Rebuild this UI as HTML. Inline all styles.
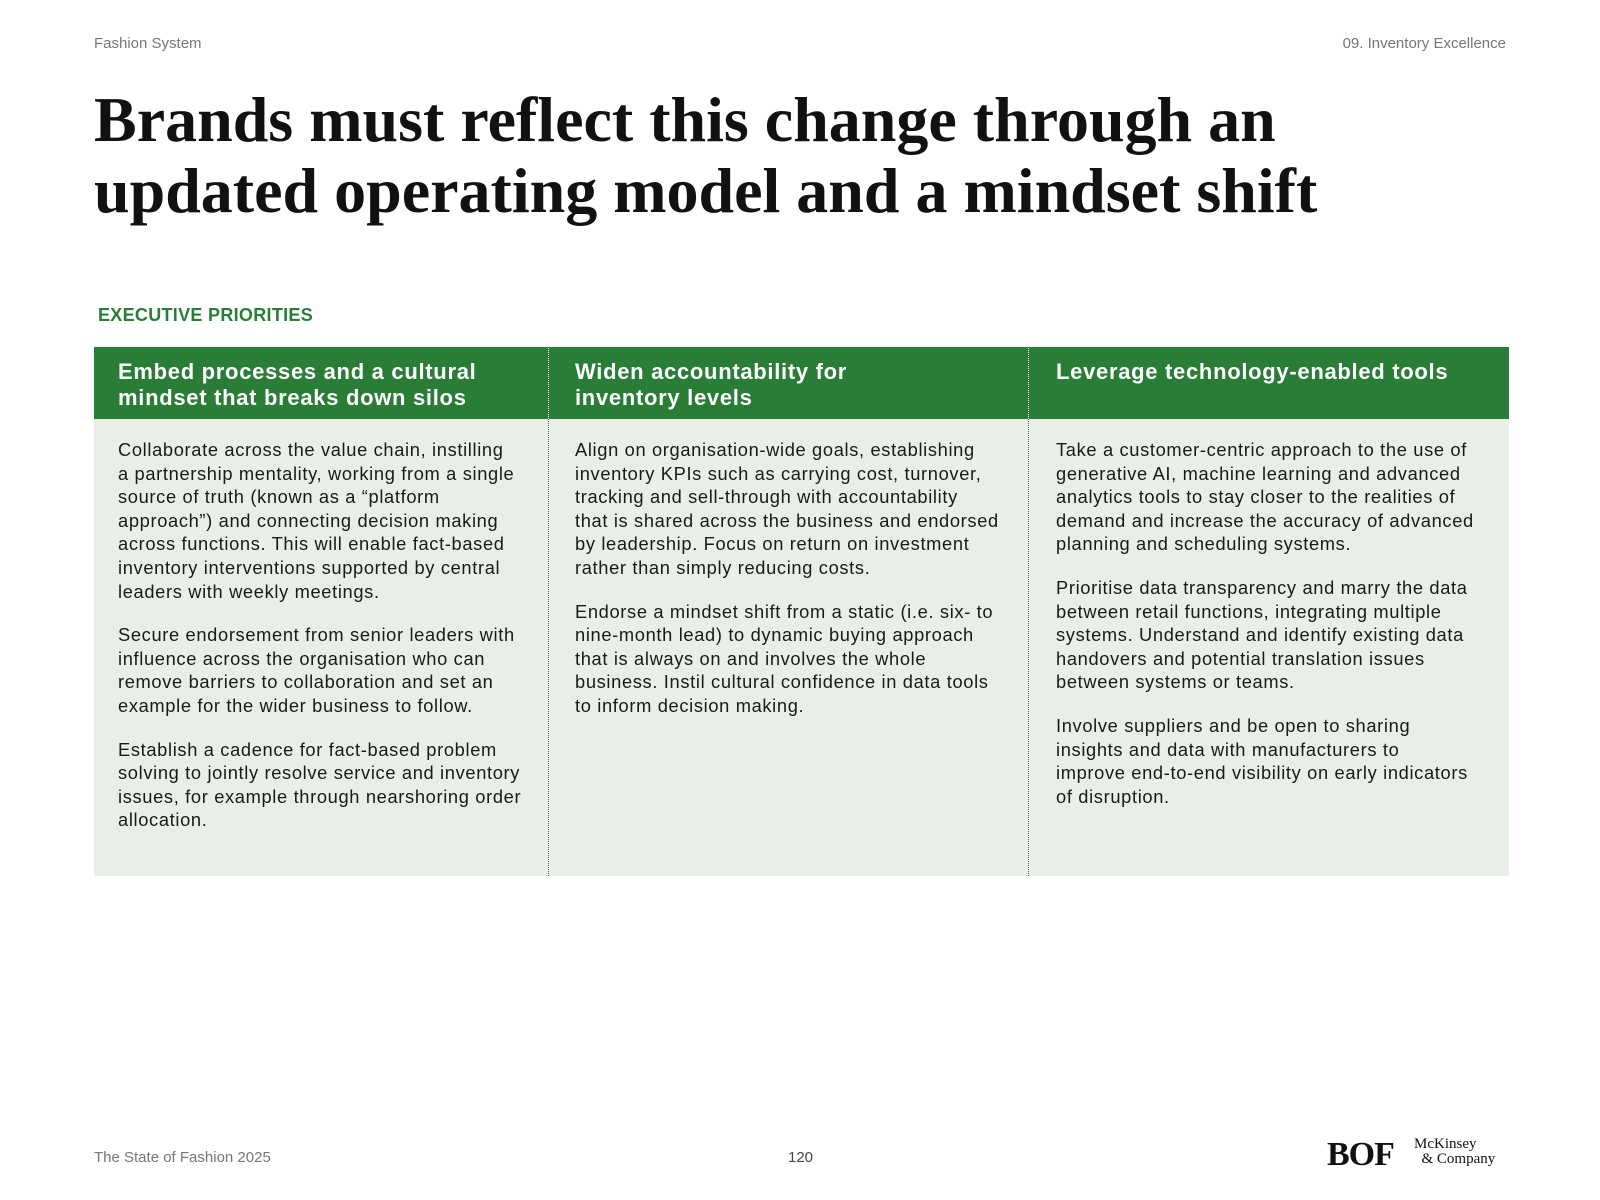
<!DOCTYPE html>
<html><head><meta charset="utf-8"><style>
*{margin:0;padding:0;box-sizing:border-box}
body{width:1600px;height:1200px;background:#fff;position:relative;font-family:"Liberation Sans",sans-serif;color:#1a1a1a;overflow:hidden}
.abs{position:absolute}
.small{font-size:15px;color:#777}
h1{position:absolute;left:94px;top:84px;font-family:"Liberation Serif",serif;font-weight:bold;font-size:64px;line-height:71px;letter-spacing:0px;color:#111;white-space:nowrap}
.col{position:absolute;top:347px;height:529px;background:#e8efe6}
.hd{height:72px;background:#2a7d37;color:#fff;font-weight:bold;font-size:22px;line-height:26px;padding:12px 0 0 24px;letter-spacing:0.7px;white-space:nowrap}
.bd{padding:19px 0 0 24px;font-size:18.3px;line-height:23.6px;color:#1a1a1a;letter-spacing:0.65px;white-space:nowrap}
.bd p{margin-bottom:20px}
</style></head><body>
<div class="abs small" style="left:94px;top:35px">Fashion System</div>
<div class="abs small" style="right:94px;top:35px">09. Inventory Excellence</div>
<h1>Brands must reflect this change through an<br>updated operating model and a mindset shift</h1>
<div class="abs" style="left:98px;top:305px;font-size:18px;font-weight:bold;color:#2a7d37;letter-spacing:0.3px">EXECUTIVE PRIORITIES</div>

<div class="col" style="left:94px;width:454px">
<div class="hd">Embed processes and a cultural<br>mindset that breaks down silos</div>
<div class="bd">
<p>Collaborate across the value chain, instilling<br>a partnership mentality, working from a single<br>source of truth (known as a “platform<br>approach”) and connecting decision making<br>across functions. This will enable fact-based<br>inventory interventions supported by central<br>leaders with weekly meetings.</p>
<p>Secure endorsement from senior leaders with<br>influence across the organisation who can<br>remove barriers to collaboration and set an<br>example for the wider business to follow.</p>
<p>Establish a cadence for fact-based problem<br>solving to jointly resolve service and inventory<br>issues, for example through nearshoring order<br>allocation.</p>
</div></div>
<div class="col" style="left:548px;width:480px;border-left:1px dotted #666">
<div class="hd" style="padding-left:26px">Widen accountability for<br>inventory levels</div>
<div class="bd" style="padding-left:26px">
<p>Align on organisation-wide goals, establishing<br>inventory KPIs such as carrying cost, turnover,<br>tracking and sell-through with accountability<br>that is shared across the business and endorsed<br>by leadership. Focus on return on investment<br>rather than simply reducing costs.</p>
<p>Endorse a mindset shift from a static (i.e. six- to<br>nine-month lead) to dynamic buying approach<br>that is always on and involves the whole<br>business. Instil cultural confidence in data tools<br>to inform decision making.</p>
</div></div>
<div class="col" style="left:1028px;width:481px;border-left:1px dotted #666">
<div class="hd" style="padding-left:27px">Leverage technology-enabled tools</div>
<div class="bd" style="padding-left:27px">
<p>Take a customer-centric approach to the use of<br>generative AI, machine learning and advanced<br>analytics tools to stay closer to the realities of<br>demand and increase the accuracy of advanced<br>planning and scheduling systems.</p>
<p>Prioritise data transparency and marry the data<br>between retail functions, integrating multiple<br>systems. Understand and identify existing data<br>handovers and potential translation issues<br>between systems or teams.</p>
<p>Involve suppliers and be open to sharing<br>insights and data with manufacturers to<br>improve end-to-end visibility on early indicators<br>of disruption.</p>
</div></div>

<div class="abs small" style="left:94px;top:1149px">The State of Fashion 2025</div>
<div class="abs small" style="left:788px;top:1149px;color:#444">120</div>
<div class="abs" style="left:1327px;top:1136px;font-family:'Liberation Serif',serif;font-weight:bold;font-size:34px;letter-spacing:-1px;color:#111">BOF</div>
<div class="abs" style="left:1414px;top:1137px;font-family:'Liberation Serif',serif;font-size:15px;line-height:15px;color:#111">McKinsey<br>&nbsp;&nbsp;&amp; Company</div>
</body></html>
